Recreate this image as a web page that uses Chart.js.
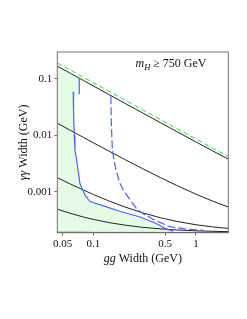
<!DOCTYPE html>
<html>
<head>
<meta charset="utf-8">
<script src="https://cdn.jsdelivr.net/npm/chart.js@4.4.0/dist/chart.umd.min.js"></script>
<style>
  html, body { margin: 0; padding: 0; background: #fff; }
  #wrap { width: 247px; height: 319px; }
</style>
</head>
<body>
<div id="wrap"><canvas id="widthChart" width="247" height="319"></canvas></div>
<script>
// gg width grid (GeV) used by the black contours
const ggGrid = [0.0444, 0.06, 0.08, 0.1, 0.14, 0.2, 0.3, 0.45, 0.65, 1, 1.45, 2.07];

// gamma-gamma width (GeV), top to bottom
const contour1 = [0.167, 0.124, 0.0928, 0.0743, 0.0531, 0.0372, 0.0249, 0.0167, 0.0116, 0.0076, 0.0053, 0.00377];
const contour2 = [0.0163, 0.0121, 0.00912, 0.00733, 0.00529, 0.00376, 0.00257, 0.00178, 0.00129, 0.000904, 0.000683, 0.000535];
const contour3 = [0.00177, 0.00136, 0.00107, 0.000891, 0.000691, 0.000541, 0.000424, 0.000346, 0.000298, 0.00026, 0.000238, 0.000224];
const contour4 = [0.00049, 0.000412, 0.000356, 0.000323, 0.000285, 0.000257, 0.000234, 0.00022, 0.00021, 0.000203, 0.000199, 0.000196];
const contour5 = [0.000191, 0.000191, 0.000191, 0.00019, 0.00019, 0.00019, 0.00019, 0.00019, 0.00019, 0.00019, 0.00019, 0.00019];

// green dashed bound just above the top contour
const greenBound = [0.19, 0.141, 0.106, 0.0848, 0.0606, 0.0424, 0.0283, 0.0189, 0.0131, 0.0086, 0.0059, 0.0042];

// solid blue curve
const blueX = [0.0635, 0.064, 0.065, 0.066, 0.0686, 0.0738, 0.0826, 0.0924, 0.1345, 0.18, 0.28, 0.4, 0.52, 0.6];
const blueY = [0.059, 0.025, 0.01, 0.0055, 0.0036, 0.0014, 0.00088, 0.00067, 0.00054, 0.00045, 0.00036, 0.00028, 0.000217, 0.000203];

// short solid blue stub hanging from the top contour
const stubX = [0.0727, 0.0727];
const stubY = [0.102, 0.053];

// dashed blue curve
const dashX = [0.148, 0.149, 0.151, 0.153, 0.159, 0.166, 0.182, 0.195, 0.23, 0.264, 0.31, 0.4, 0.557, 0.8, 1.18];
const dashY = [0.049, 0.02, 0.01, 0.0055, 0.0036, 0.0024, 0.0014, 0.00107, 0.0007, 0.0005, 0.0004, 0.00031, 0.00024, 0.000218, 0.000208];

// outline of the shaded (allowed) region
const shadeX = [0.0444, 0.06, 0.0727, 0.0727, 0.0637, 0.064, 0.065, 0.066, 0.0686, 0.0738, 0.0826, 0.0924, 0.1345, 0.18, 0.28, 0.4, 0.52, 0.6, 0.62];
const shadeY = [0.167, 0.124, 0.102, 0.053, 0.052, 0.025, 0.01, 0.0055, 0.0036, 0.0014, 0.00088, 0.00067, 0.00054, 0.00045, 0.00036, 0.00028, 0.000217, 0.000203, 0.000188];

const xTicks = [0.05, 0.1, 0.5, 1];
const yTicks = [0.001, 0.01, 0.1];

const SERIF = '"Liberation Serif", "DejaVu Serif", serif';

function pts(xs, ys) {
    return xs.map((x, i) => ({ x: x, y: ys[i] }));
}

function line(data, color, width, dash, order) {
    return {
        data: data, showLine: true, pointRadius: 0, borderColor: color,
        borderWidth: width, borderDash: dash || [], fill: false, tension: 0, order: order
    };
}

// draws a row of text pieces with their own fonts, centred on x
function drawRuns(ctx, runs, x, y) {
    let total = 0;
    runs.forEach(r => { ctx.font = r.font; total += ctx.measureText(r.text).width; });
    let cx = x - total / 2;
    runs.forEach(r => {
        ctx.font = r.font;
        ctx.fillText(r.text, cx, y + (r.dy || 0));
        cx += ctx.measureText(r.text).width;
    });
}

const frameAndText = {
    id: 'frameAndText',
    afterDraw(chart) {
        const { ctx, chartArea: a } = chart;
        ctx.save();
        ctx.strokeStyle = '#707070';
        ctx.lineWidth = 1;
        ctx.strokeRect(a.left, a.top, a.right - a.left, a.bottom - a.top);

        ctx.fillStyle = '#111';
        ctx.textBaseline = 'alphabetic';
        ctx.textAlign = 'left';

        // x axis title
        drawRuns(ctx, [
            { text: 'gg', font: 'italic 12px ' + SERIF },
            { text: ' Width (GeV)', font: '12px ' + SERIF }
        ], (a.left + a.right) / 2, 261.5);

        // y axis title
        ctx.save();
        ctx.translate(27, (a.top + a.bottom) / 2);
        ctx.rotate(-Math.PI / 2);
        drawRuns(ctx, [
            { text: 'γγ', font: 'italic 12px ' + SERIF },
            { text: ' Width (GeV)', font: '12px ' + SERIF }
        ], 0, 0);
        ctx.restore();

        // mass label
        drawRuns(ctx, [
            { text: 'm', font: 'italic 12px ' + SERIF },
            { text: 'H', font: 'italic 8.5px ' + SERIF, dy: 3.5 },
            { text: ' ≥ 750 GeV', font: '12px ' + SERIF }
        ], 171, 66.5);
        ctx.restore();
    }
};

const ctx = document.getElementById('widthChart').getContext('2d');
new Chart(ctx, {
    type: 'scatter',
    data: {
        datasets: [
            Object.assign(line(pts(shadeX, shadeY), 'rgba(0,0,0,0)', 0, null, 10),
                { fill: 'start', backgroundColor: 'rgb(230,251,230)' }),
            line(pts(ggGrid, contour1), '#222', 1, null, 5),
            line(pts(ggGrid, contour2), '#222', 1, null, 5),
            line(pts(ggGrid, contour3), '#222', 1, null, 5),
            line(pts(ggGrid, contour4), '#222', 1, null, 5),
            line(pts(ggGrid, contour5), '#222', 1, null, 5),
            line(pts(ggGrid, greenBound), '#2fdc2f', 1, [5, 3], 4),
            line(pts(blueX, blueY), '#4c62f0', 1.2, null, 3),
            line(pts(stubX, stubY), '#4c62f0', 1.2, null, 3),
            line(pts(dashX, dashY), '#4c62f0', 1.2, [8, 3], 3)
        ]
    },
    plugins: [frameAndText],
    options: {
        responsive: false,
        animation: false,
        devicePixelRatio: 1,
        layout: { padding: { left: 0, top: 52, right: 18.7, bottom: 64.3 } },
        plugins: { legend: { display: false }, tooltip: { enabled: false } },
        scales: {
            x: {
                type: 'logarithmic', position: 'bottom', min: 0.0444, max: 2.07,
                afterBuildTicks: s => { s.ticks = xTicks.map(v => ({ value: v })); },
                afterFit: s => { s.height = 22; },
                ticks: { callback: v => String(v), font: { family: SERIF, size: 11 }, color: '#111', padding: 2, maxRotation: 0, autoSkip: false },
                grid: { drawOnChartArea: false, tickLength: 3, color: '#707070' },
                border: { display: false }
            },
            y: {
                type: 'logarithmic', position: 'left', min: 0.000188, max: 0.297,
                afterBuildTicks: s => { s.ticks = yTicks.map(v => ({ value: v })); },
                afterFit: s => { s.width = 57.3; },
                ticks: { callback: v => String(v), font: { family: SERIF, size: 11 }, color: '#111', padding: 2, autoSkip: false },
                grid: { drawOnChartArea: false, tickLength: 3, color: '#707070' },
                border: { display: false }
            }
        }
    }
});
</script>
</body>
</html>
